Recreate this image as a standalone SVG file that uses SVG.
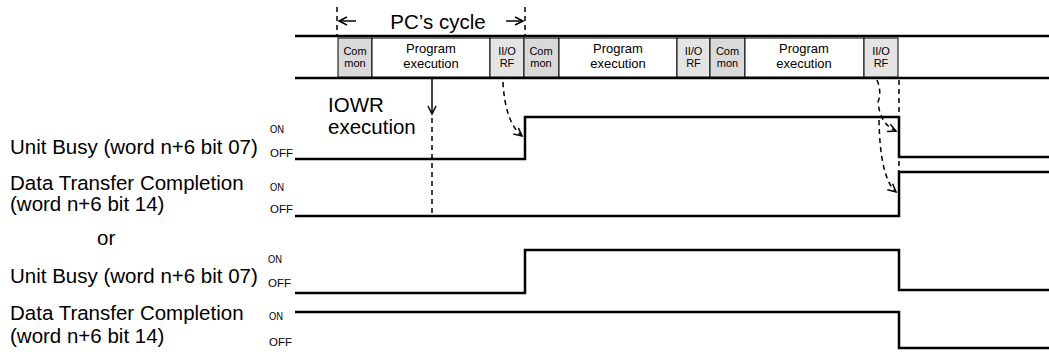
<svg xmlns="http://www.w3.org/2000/svg" width="1049" height="360" viewBox="0 0 1049 360">
<defs>
<marker id="ah" markerUnits="userSpaceOnUse" markerWidth="12" markerHeight="12" refX="9" refY="5" orient="auto">
<path d="M1,1 L9,5 L1,9" fill="none" stroke="#000" stroke-width="1.5"/>
</marker>
</defs>
<style>
text{font-family:"Liberation Sans",Arial,sans-serif;fill:#000}
.big{font-size:20.5px}
.box{font-size:11px}
.prog{font-size:13px}
.oo{font-size:11px}
.bar{stroke:#000;stroke-width:2.5}
.cell{stroke:#000;stroke-width:1}
.com{fill:#d9d9d9}
.io{fill:#e4e4e4}
.pe{fill:#fff}
.sig{fill:none;stroke:#000;stroke-width:2.5}
.dash{fill:none;stroke:#000;stroke-width:1.5;stroke-dasharray:5 4}
.sol{fill:none;stroke:#000;stroke-width:1.5}
</style>
<rect width="1049" height="360" fill="#fff"/>

<g id="cycle-bar">
<line class="bar" x1="295" y1="36" x2="1049" y2="36"/>
<line class="bar" x1="295" y1="78" x2="1049" y2="78"/>
</g>

<g id="common1"><rect class="cell com" x="338" y="38" width="34" height="39"/>
<text class="box" x="355" y="55" text-anchor="middle">Com</text><text class="box" x="355" y="67" text-anchor="middle">mon</text></g>
<g id="prog1"><rect class="cell pe" x="372" y="38" width="118" height="39"/>
<text class="prog" x="431" y="53" text-anchor="middle">Program</text><text class="prog" x="431" y="68" text-anchor="middle">execution</text></g>
<g id="iorf1"><rect class="cell io" x="490" y="38" width="34" height="39"/>
<text class="box" x="507" y="55" text-anchor="middle">II/O</text><text class="box" x="507" y="67" text-anchor="middle">RF</text></g>
<g id="common2"><rect class="cell com" x="524" y="38" width="35" height="39"/>
<text class="box" x="541" y="55" text-anchor="middle">Com</text><text class="box" x="541" y="67" text-anchor="middle">mon</text></g>
<g id="prog2"><rect class="cell pe" x="559" y="38" width="118" height="39"/>
<text class="prog" x="618" y="53" text-anchor="middle">Program</text><text class="prog" x="618" y="68" text-anchor="middle">execution</text></g>
<g id="iorf2"><rect class="cell io" x="677" y="38" width="33" height="39"/>
<text class="box" x="693.5" y="55" text-anchor="middle">II/O</text><text class="box" x="693.5" y="67" text-anchor="middle">RF</text></g>
<g id="common3"><rect class="cell com" x="710" y="38" width="35" height="39"/>
<text class="box" x="727.5" y="55" text-anchor="middle">Com</text><text class="box" x="727.5" y="67" text-anchor="middle">mon</text></g>
<g id="prog3"><rect class="cell pe" x="745" y="38" width="119" height="39"/>
<text class="prog" x="804" y="53" text-anchor="middle">Program</text><text class="prog" x="804" y="68" text-anchor="middle">execution</text></g>
<g id="iorf3"><rect class="cell io" x="864" y="38" width="34" height="39"/>
<text class="box" x="881" y="55" text-anchor="middle">II/O</text><text class="box" x="881" y="67" text-anchor="middle">RF</text></g>

<g id="pc-cycle">
<text class="big" x="438" y="29" text-anchor="middle">PC’s cycle</text>
</g>
<g id="iowr">
<text class="big" x="328" y="112">IOWR</text>
<text class="big" x="328" y="134">execution</text>
</g>

<g id="labels">
<text class="big" x="10" y="154">Unit Busy (word n+6 bit 07)</text>
<text class="big" x="10" y="190">Data Transfer Completion</text>
<text class="big" x="10" y="211">(word n+6 bit 14)</text>
<text class="big" x="97" y="245">or</text>
<text class="big" x="10" y="283">Unit Busy (word n+6 bit 07)</text>
<text class="big" x="10" y="320">Data Transfer Completion</text>
<text class="big" x="10" y="343">(word n+6 bit 14)</text>
<text class="oo" x="270" y="133" textLength="14" lengthAdjust="spacingAndGlyphs">ON</text>
<text class="oo" x="270" y="157" textLength="23" lengthAdjust="spacingAndGlyphs">OFF</text>
<text class="oo" x="270" y="191" textLength="14" lengthAdjust="spacingAndGlyphs">ON</text>
<text class="oo" x="270" y="213" textLength="23" lengthAdjust="spacingAndGlyphs">OFF</text>
<text class="oo" x="268" y="263" textLength="14" lengthAdjust="spacingAndGlyphs">ON</text>
<text class="oo" x="268" y="287" textLength="23" lengthAdjust="spacingAndGlyphs">OFF</text>
<text class="oo" x="269" y="320" textLength="14" lengthAdjust="spacingAndGlyphs">ON</text>
<text class="oo" x="269" y="346" textLength="23" lengthAdjust="spacingAndGlyphs">OFF</text>
</g>

<g id="connectors">
<line class="dash" x1="337" y1="7" x2="337" y2="35"/>
<line class="dash" x1="525" y1="7" x2="525" y2="35"/>
<line class="sol" x1="356" y1="21" x2="339" y2="21" marker-end="url(#ah)"/>
<line class="sol" x1="506" y1="21" x2="523" y2="21" marker-end="url(#ah)"/>
<line class="sol" x1="432" y1="79" x2="432" y2="114" marker-end="url(#ah)"/>
<line class="dash" x1="432" y1="118" x2="432" y2="217"/>
<path class="dash" d="M503 82 Q505 122 522 136" marker-end="url(#ah)"/>
<line class="dash" x1="899" y1="80" x2="899" y2="172"/>
<path class="dash" d="M877 80 Q882 92 878 102 Q880 124 896 131" marker-end="url(#ah)"/>
<path class="dash" d="M879 120 Q880 178 896 192" marker-end="url(#ah)"/>
</g>

<g id="signals">
<path class="sig" d="M295 159 H525 V117 H899 V157 H1049"/>
<path class="sig" d="M295 216 H899 V172 H1049"/>
<path class="sig" d="M295 293 H525 V250 H899 V290 H1049"/>
<path class="sig" d="M295 312 H899 V348 H1049"/>
</g>
</svg>
